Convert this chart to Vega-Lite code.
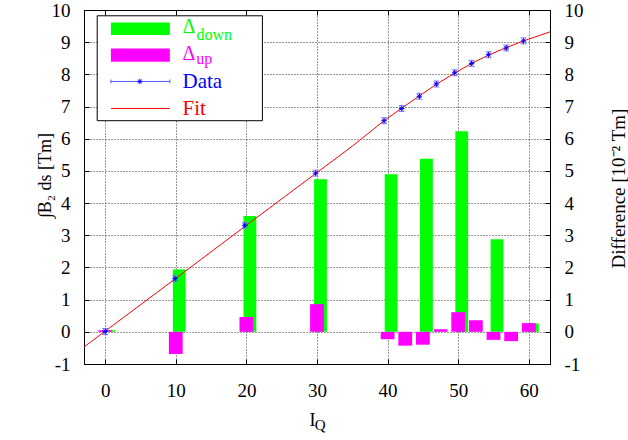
{
  "$schema": "https://vega.github.io/schema/vega-lite/v6.json",
  "width": 466,
  "height": 354,
  "autosize": "none",
  "padding": {"left": 84, "top": 10, "right": 78, "bottom": 76},
  "background": "white",
  "config": {
    "view": {"stroke": "black", "strokeWidth": 1},
    "style": {"guide-label": {"font": "Liberation Serif, Times New Roman, serif"}, "guide-title": {"font": "Liberation Serif, Times New Roman, serif"}},
    "axis": {
      "labelFont": "Liberation Serif, Times New Roman, serif",
      "titleFont": "Liberation Serif, Times New Roman, serif",
      "labelFontSize": 19,
      "titleFontSize": 18,
      "labelColor": "black",
      "titleColor": "black",
      "titleFontWeight": "normal",
      "domainColor": "black",
      "tickColor": "black"
    }
  },
  "datasets": {
    "bars": [
      {"I": 0, "down": 0.05, "up": 0.05},
      {"I": 10, "down": 1.94, "up": -0.69},
      {"I": 20, "down": 3.6, "up": 0.46},
      {"I": 30, "down": 4.74, "up": 0.86},
      {"I": 40, "down": 4.9, "up": -0.23},
      {"I": 42.5, "down": null, "up": -0.43},
      {"I": 45, "down": 5.38, "up": -0.4},
      {"I": 47.5, "down": null, "up": 0.08},
      {"I": 50, "down": 6.23, "up": 0.61},
      {"I": 52.5, "down": null, "up": 0.36},
      {"I": 55, "down": 2.88, "up": -0.25},
      {"I": 57.5, "down": null, "up": -0.29},
      {"I": 60, "down": 0.26, "up": 0.27}
    ],
    "points": [
      {"I": 0, "B": 0.01},
      {"I": 9.9, "B": 1.65},
      {"I": 19.77, "B": 3.31},
      {"I": 29.8, "B": 4.93},
      {"I": 39.5, "B": 6.56},
      {"I": 42.0, "B": 6.94},
      {"I": 44.5, "B": 7.32},
      {"I": 46.9, "B": 7.7},
      {"I": 49.5, "B": 8.05},
      {"I": 51.9, "B": 8.34},
      {"I": 54.3, "B": 8.61},
      {"I": 56.8, "B": 8.82},
      {"I": 59.25, "B": 9.04}
    ],
    "fit": [
      {"I": -3, "B": -0.47},
      {"I": 0, "B": 0.02},
      {"I": 10, "B": 1.66},
      {"I": 20, "B": 3.31},
      {"I": 30, "B": 4.95},
      {"I": 35, "B": 5.77},
      {"I": 39.5, "B": 6.56},
      {"I": 42.0, "B": 6.95},
      {"I": 44.5, "B": 7.33},
      {"I": 46.9, "B": 7.69},
      {"I": 49.5, "B": 8.04},
      {"I": 51.9, "B": 8.34},
      {"I": 54.3, "B": 8.6},
      {"I": 56.8, "B": 8.83},
      {"I": 59.25, "B": 9.04},
      {"I": 63, "B": 9.32}
    ],
    "one": [{}]
  },
  "resolve": {"axis": {"x": "independent", "y": "independent"}},
  "layer": [
    {
      "data": {"name": "bars"},
      "mark": {"type": "bar", "color": "#00ff00", "size": 12.8, "xOffset": 3.5},
      "encoding": {
        "x": {
          "field": "I", "type": "quantitative",
          "scale": {"domain": [-3, 63], "nice": false, "zero": false, "padding": 0},
          "axis": {
            "orient": "bottom", "title": "I", "values": [0, 10, 20, 30, 40, 50, 60],
            "grid": true, "gridColor": "#333333", "gridDash": [1, 2], "gridOpacity": 1, "gridWidth": 1,
            "tickSize": -5, "labelPadding": 22, "labelBaseline": "top",
            "titleX": 228, "titleY": 61, "titleBaseline": "alphabetic", "titleAlign": "center"
          }
        },
        "y": {
          "field": "down", "type": "quantitative",
          "scale": {"domain": [-1, 10], "nice": false, "zero": false, "padding": 0},
          "axis": {
            "orient": "left", "title": "∫B₂ ds [Tm]", "values": [-1, 0, 1, 2, 3, 4, 5, 6, 7, 8, 9, 10],
            "labelExpr": "'' + datum.value",
            "grid": true, "gridColor": "#333333", "gridDash": [1, 2], "gridOpacity": 1, "gridWidth": 1,
            "tickSize": -5, "labelPadding": 19, "labelAlign": "right",
            "titleX": -34, "titleY": 165, "titleAngle": -90, "titleBaseline": "alphabetic", "titleAlign": "center"
          }
        },
        "y2": {"datum": 0}
      }
    },
    {
      "data": {"name": "bars"},
      "mark": {"type": "bar", "color": "#ff00ff", "size": 13.8},
      "encoding": {
        "x": {
          "field": "I", "type": "quantitative",
          "axis": {
            "orient": "top", "title": null, "values": [0, 10, 20, 30, 40, 50, 60],
            "labels": false, "grid": false, "tickSize": -5
          }
        },
        "y": {
          "field": "up", "type": "quantitative",
          "axis": {
            "orient": "right", "title": "Difference [10⁻² Tm]", "values": [-1, 0, 1, 2, 3, 4, 5, 6, 7, 8, 9, 10],
            "labelExpr": "'' + datum.value",
            "grid": false, "tickSize": -5, "labelPadding": 19, "labelAlign": "left",
            "titleFontSize": 19,
            "titleX": 74, "titleY": 178, "titleAngle": -90, "titleBaseline": "alphabetic", "titleAlign": "center"
          }
        },
        "y2": {"datum": 0}
      }
    },
    {
      "data": {"name": "fit"},
      "mark": {"type": "line", "color": "#ff0000", "strokeWidth": 1},
      "encoding": {
        "x": {"field": "I", "type": "quantitative", "axis": null},
        "y": {"field": "B", "type": "quantitative", "axis": null}
      }
    },
    {
      "data": {"name": "points"},
      "mark": {"type": "point", "shape": "M-1,-1L1,-1M-1,1L1,1M0,-1L0,1", "size": 36, "color": "#7f7fff", "filled": false, "strokeWidth": 1, "opacity": 1},
      "encoding": {
        "x": {"field": "I", "type": "quantitative", "axis": null},
        "y": {"field": "B", "type": "quantitative", "axis": null}
      }
    },
    {
      "data": {"name": "points"},
      "mark": {"type": "point", "shape": "M-1,0L1,0M0,-1L0,1M-0.7,-0.7L0.7,0.7M-0.7,0.7L0.7,-0.7", "size": 30, "color": "#0000ff", "filled": false, "strokeWidth": 1, "opacity": 1},
      "encoding": {
        "x": {"field": "I", "type": "quantitative", "axis": null},
        "y": {"field": "B", "type": "quantitative", "axis": null}
      }
    },
    {
      "data": {"name": "one"},
      "mark": {"type": "text", "text": "Q", "align": "left", "baseline": "alphabetic", "font": "Liberation Serif, Times New Roman, serif", "fontSize": 15, "color": "black"},
      "encoding": {
        "x": {"datum": 29.67, "type": "quantitative", "axis": null},
        "y": {"datum": -3.05, "type": "quantitative", "axis": null}
      }
    },
    {
      "data": {"name": "one"},
      "mark": {"type": "rect", "fill": "white", "stroke": "black", "strokeWidth": 1},
      "encoding": {
        "x": {"datum": -1.13, "type": "quantitative", "axis": null},
        "x2": {"datum": 22.27},
        "y": {"datum": 9.82, "type": "quantitative", "axis": null},
        "y2": {"datum": 6.56}
      }
    },
    {
      "data": {"name": "one"},
      "mark": {"type": "rect", "fill": "#00ff00"},
      "encoding": {
        "x": {"datum": 0.81, "type": "quantitative", "axis": null},
        "x2": {"datum": 9.16},
        "y": {"datum": 9.61, "type": "quantitative", "axis": null},
        "y2": {"datum": 9.22}
      }
    },
    {
      "data": {"name": "one"},
      "mark": {"type": "rect", "fill": "#ff00ff"},
      "encoding": {
        "x": {"datum": 0.81, "type": "quantitative", "axis": null},
        "x2": {"datum": 9.16},
        "y": {"datum": 8.8, "type": "quantitative", "axis": null},
        "y2": {"datum": 8.39}
      }
    },
    {
      "data": {"name": "one"},
      "mark": {"type": "rule", "color": "#5a5aff", "strokeWidth": 1},
      "encoding": {
        "x": {"datum": 0.81, "type": "quantitative", "axis": null},
        "x2": {"datum": 9.16},
        "y": {"datum": 7.78, "type": "quantitative", "axis": null}
      }
    },
    {
      "data": {"name": "one"},
      "mark": {"type": "rule", "color": "#5a5aff", "strokeWidth": 1},
      "encoding": {
        "x": {"datum": 0.81, "type": "quantitative", "axis": null},
        "y": {"datum": 7.72, "type": "quantitative", "axis": null},
        "y2": {"datum": 7.84}
      }
    },
    {
      "data": {"name": "one"},
      "mark": {"type": "rule", "color": "#5a5aff", "strokeWidth": 1},
      "encoding": {
        "x": {"datum": 9.16, "type": "quantitative", "axis": null},
        "y": {"datum": 7.72, "type": "quantitative", "axis": null},
        "y2": {"datum": 7.84}
      }
    },
    {
      "data": {"name": "one"},
      "mark": {"type": "point", "shape": "M-1,0L1,0M0,-1L0,1M-0.7,-0.7L0.7,0.7M-0.7,0.7L0.7,-0.7", "size": 30, "color": "#0000ff", "filled": false, "strokeWidth": 1, "opacity": 1},
      "encoding": {
        "x": {"datum": 4.91, "type": "quantitative", "axis": null},
        "y": {"datum": 7.78, "type": "quantitative", "axis": null}
      }
    },
    {
      "data": {"name": "one"},
      "mark": {"type": "rule", "color": "#ff0000", "strokeWidth": 1},
      "encoding": {
        "x": {"datum": 0.81, "type": "quantitative", "axis": null},
        "x2": {"datum": 9.16},
        "y": {"datum": 6.94, "type": "quantitative", "axis": null}
      }
    },
    {
      "data": {"name": "one"},
      "mark": {"type": "text", "text": "Δ", "align": "left", "baseline": "alphabetic", "font": "Liberation Serif, Times New Roman, serif", "fontSize": 20, "color": "#00ff00"},
      "encoding": {
        "x": {"datum": 10.95, "type": "quantitative", "axis": null},
        "y": {"datum": 9.28, "type": "quantitative", "axis": null}
      }
    },
    {
      "data": {"name": "one"},
      "mark": {"type": "text", "text": "down", "align": "left", "baseline": "alphabetic", "font": "Liberation Serif, Times New Roman, serif", "fontSize": 16, "color": "#00ff00"},
      "encoding": {
        "x": {"datum": 12.93, "type": "quantitative", "axis": null},
        "y": {"datum": 9.07, "type": "quantitative", "axis": null}
      }
    },
    {
      "data": {"name": "one"},
      "mark": {"type": "text", "text": "Δ", "align": "left", "baseline": "alphabetic", "font": "Liberation Serif, Times New Roman, serif", "fontSize": 20, "color": "#ff00ff"},
      "encoding": {
        "x": {"datum": 10.95, "type": "quantitative", "axis": null},
        "y": {"datum": 8.44, "type": "quantitative", "axis": null}
      }
    },
    {
      "data": {"name": "one"},
      "mark": {"type": "text", "text": "up", "align": "left", "baseline": "alphabetic", "font": "Liberation Serif, Times New Roman, serif", "fontSize": 16, "color": "#ff00ff"},
      "encoding": {
        "x": {"datum": 12.9, "type": "quantitative", "axis": null},
        "y": {"datum": 8.31, "type": "quantitative", "axis": null}
      }
    },
    {
      "data": {"name": "one"},
      "mark": {"type": "text", "text": "Data", "align": "left", "baseline": "alphabetic", "font": "Liberation Serif, Times New Roman, serif", "fontSize": 21, "color": "#0000ff"},
      "encoding": {
        "x": {"datum": 10.95, "type": "quantitative", "axis": null},
        "y": {"datum": 7.57, "type": "quantitative", "axis": null}
      }
    },
    {
      "data": {"name": "one"},
      "mark": {"type": "text", "text": "Fit", "align": "left", "baseline": "alphabetic", "font": "Liberation Serif, Times New Roman, serif", "fontSize": 21, "color": "#ff0000"},
      "encoding": {
        "x": {"datum": 10.95, "type": "quantitative", "axis": null},
        "y": {"datum": 6.75, "type": "quantitative", "axis": null}
      }
    }
  ]
}
